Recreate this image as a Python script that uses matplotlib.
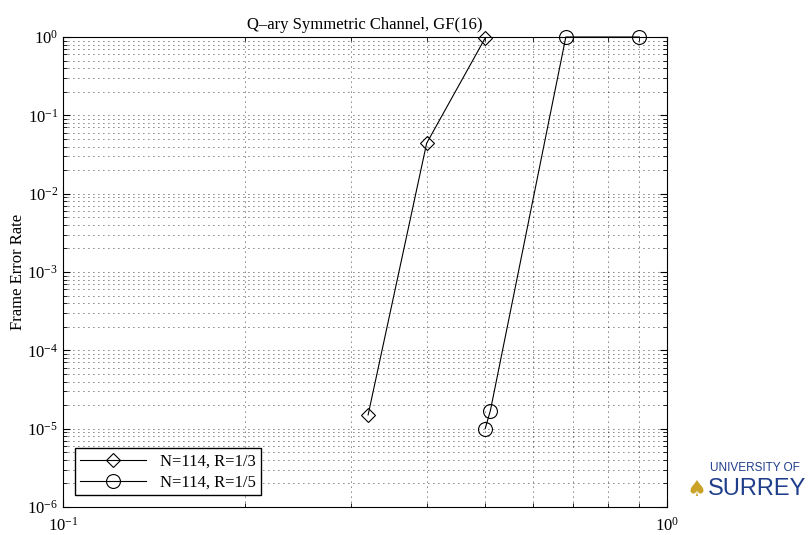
import matplotlib
matplotlib.use("Agg")
import matplotlib.pyplot as plt
from matplotlib.ticker import NullFormatter

# data
snr_r13 = [0.32, 0.40, 0.50]
fer_r13 = [1.5e-5, 4.4e-2, 0.97]
snr_r15 = [0.50, 0.51, 0.68, 0.90]
fer_r15 = [1.0e-5, 1.7e-5, 1.0, 1.0]
labels = ["N=114, R=1/3", "N=114, R=1/5"]

plt.rcParams['font.family'] = ['Liberation Serif', 'DejaVu Serif']
plt.rcParams['mathtext.fontset'] = 'stix'

fig = plt.figure(figsize=(8.09, 5.35), dpi=100)
ax = fig.add_axes([63 / 809, 1 - 507 / 535, 604 / 809, 470 / 535])

ax.loglog(snr_r13, fer_r13, color='black', lw=0.8, marker='D', ms=7.5,
          mfc='none', mec='black', mew=0.8, label=labels[0], clip_on=False)
ax.loglog(snr_r15, fer_r15, color='black', lw=0.8, marker='o', ms=10,
          mfc='none', mec='black', mew=0.8, label=labels[1], clip_on=False)

ax.set_xlim(0.1, 1)
ax.set_ylim(1e-6, 1)
ax.xaxis.set_minor_formatter(NullFormatter())
ax.yaxis.set_minor_formatter(NullFormatter())
ax.grid(True, which='both', color='black', ls=(0, (1, 5)), lw=0.6)
ax.tick_params(which='both', direction='in', top=True, right=True, labelsize=12)
ax.tick_params(which='major', length=5)
ax.tick_params(which='minor', length=3)
ax.xaxis.set_tick_params(pad=7)

ax.set_title("Q\u2013ary Symmetric Channel, GF(16)", fontsize=12)
ax.set_ylabel("Frame Error Rate", fontsize=12)
ax.yaxis.set_label_coords(-0.062, 0.5)

leg = ax.legend(loc='lower left', fontsize=12, fancybox=False, framealpha=1,
                edgecolor='black', borderaxespad=0.7, handlelength=4,
                borderpad=0.3, labelspacing=0.3)
leg.get_frame().set_linewidth(1.0)

# logo text
fig.text(710 / 809, 1 - 474 / 535, "UNIVERSITY OF", color='#1f3d8a',
         fontsize=8.5, family='Liberation Sans', va='bottom')
fig.text(708 / 809, 1 - 500 / 535, "SURREY", color='#1f3d8a',
         fontsize=17, family='Liberation Sans', va='bottom')
fig.text(686 / 809, 1 - 500 / 535, "\u2660", color='#c9a227',
         fontsize=16, family='DejaVu Sans', va='bottom')

fig.savefig("out.png", dpi=100)
